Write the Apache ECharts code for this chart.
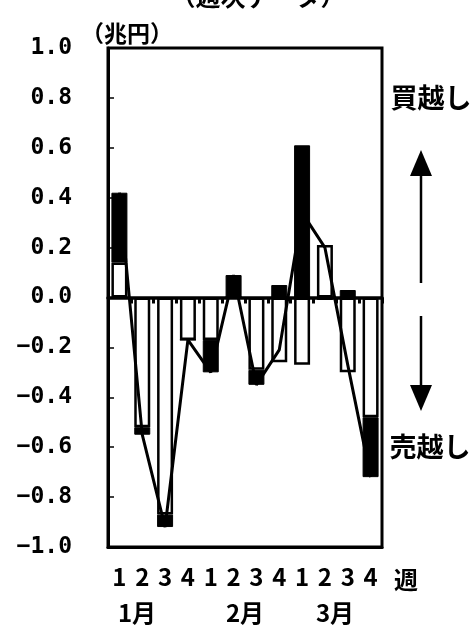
<!DOCTYPE html>
<html><head><meta charset="utf-8">
<script src="https://cdn.jsdelivr.net/npm/echarts@6/dist/echarts.min.js"></script>
<style>html,body{margin:0;padding:0;background:#fff}#c{width:473px;height:628px}</style>
</head><body><div id="c"></div><script>
// ---- data ----
const weeks = ['1','2','3','4','1','2','3','4','1','2','3','4'];
const monthLabels = ['1月','2月','3月'];
const whiteBars = [0.14,-0.52,-0.87,-0.17,-0.17,0.00,-0.29,-0.26,-0.27,0.21,-0.30,-0.48];
const blackBars = [0.28,-0.03,-0.05,0.00,-0.13,0.09,-0.06,0.05,0.61,-0.01,0.03,-0.24];
const netLine   = [0.42,-0.55,-0.92,-0.17,-0.30,0.09,-0.35,-0.21,0.34,0.20,-0.27,-0.72];
const titleText = '（週次データ）';
const unitText = '（兆円）';
const buyText = '買越し';
const sellText = '売越し';
const weekUnit = '週';

const CJK = '"Noto Sans CJK JP", sans-serif';
const MONO = '"DejaVu Sans Mono", monospace';
const chart = echarts.init(document.getElementById('c'), null, {renderer:'canvas'});

const monthX = [137, 245, 335];
const graphics = [
  {type:'text', x:258, y:-4, style:{text:titleText, font:'bold 25px '+CJK, fill:'#000', textAlign:'center', textVerticalAlign:'middle'}},
  {type:'text', x:127, y:33, style:{text:unitText, font:'bold 23px '+CJK, fill:'#000', textAlign:'center', textVerticalAlign:'middle'}},
  {type:'text', x:431, y:98, style:{text:buyText, font:'bold 27px '+CJK, fill:'#000', textAlign:'center', textVerticalAlign:'middle'}},
  {type:'text', x:430, y:447, style:{text:sellText, font:'bold 27px '+CJK, fill:'#000', textAlign:'center', textVerticalAlign:'middle'}},
  {type:'text', x:406, y:580, style:{text:weekUnit, font:'bold 24px '+CJK, fill:'#000', textAlign:'center', textVerticalAlign:'middle'}},
  // arrows
  {type:'line', shape:{x1:421, y1:172, x2:421, y2:283}, style:{stroke:'#000', lineWidth:2.5}},
  {type:'polygon', shape:{points:[[421,150],[410,176],[432,176]]}, style:{fill:'#000'}},
  {type:'line', shape:{x1:421, y1:316, x2:421, y2:388}, style:{stroke:'#000', lineWidth:2.5}},
  {type:'polygon', shape:{points:[[421,411],[410,385],[432,385]]}, style:{fill:'#000'}}
];
monthLabels.forEach((m,i)=>graphics.push({type:'text', x:monthX[i], y:613, style:{text:m, font:'bold 24px '+CJK, fill:'#000', textAlign:'center', textVerticalAlign:'middle'}}));

chart.setOption({
  backgroundColor:'#fff',
  animation:false,
  grid:{left:108, right:91, top:48, bottom:81, show:true, borderColor:'#000', borderWidth:3, backgroundColor:'transparent'},
  xAxis:[
    {type:'category', data:weeks, position:'bottom', axisLine:{onZero:false, lineStyle:{color:'#000', width:3}},
     axisTick:{show:false}, axisLabel:{color:'#000', fontFamily:CJK, fontWeight:'bold', fontSize:24, margin:18}},
    {type:'category', data:weeks, position:'top', axisLine:{onZero:true, lineStyle:{color:'#000', width:3.5}},
     axisTick:{show:true, inside:true, length:6, lineStyle:{width:3, color:'#000'}}, axisLabel:{show:false}}
  ],
  yAxis:{type:'value', min:-1, max:1, interval:0.2,
    axisLine:{show:true, lineStyle:{color:'#000', width:3}},
    axisTick:{show:true, inside:true, length:6, lineStyle:{color:'#000', width:1.5}},
    splitLine:{show:false},
    axisLabel:{color:'#000', fontFamily:MONO, fontWeight:'bold', fontSize:23, margin:36,
      formatter:v=>{const s=Math.abs(v).toFixed(1); return (v<-1e-9?'−':'')+s;}}},
  graphic:graphics,
  series:[
    {type:'bar', name:'white', stack:'s', data:whiteBars, barWidth:16, xAxisIndex:0,
     itemStyle:{color:'#fff', borderColor:'#000', borderWidth:2.5}},
    {type:'bar', name:'black', stack:'s', data:blackBars, barWidth:16, xAxisIndex:0,
     itemStyle:{color:'#000', borderColor:'#000', borderWidth:1}},
    {type:'line', name:'net', data:netLine, xAxisIndex:0, symbol:'none', z:5,
     lineStyle:{color:'#000', width:3}}
  ]
});
</script></body></html>
